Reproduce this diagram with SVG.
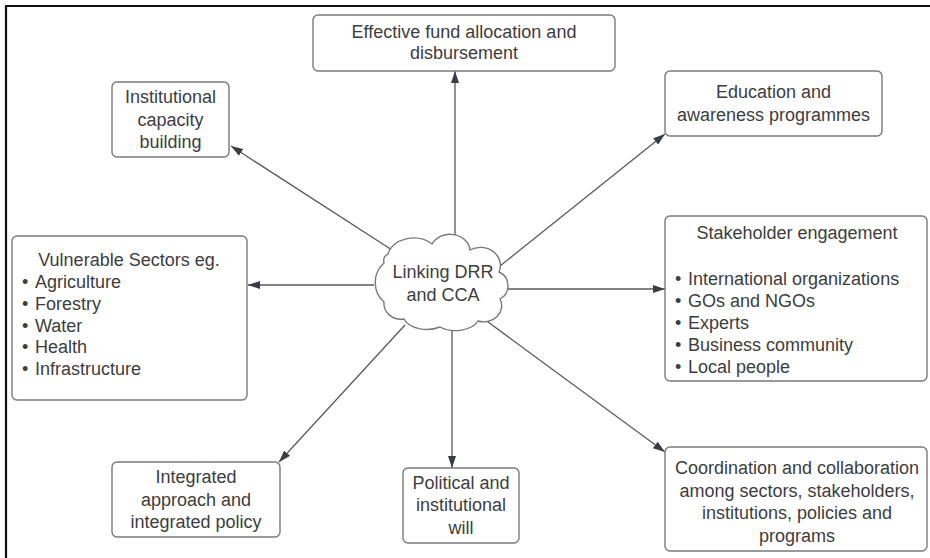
<svg xmlns="http://www.w3.org/2000/svg" width="930" height="558" viewBox="0 0 930 558">
  <defs>
    <marker id="arrow" viewBox="0 0 12 8" refX="12" refY="4" markerWidth="12" markerHeight="8" markerUnits="userSpaceOnUse" orient="auto">
      <path d="M0,0 L12,4 L0,8 Z" fill="#3a3d42"/>
    </marker>
    <style>
      .box { fill: #ffffff; stroke: #7a7a7a; stroke-width: 1.4; }
      .lbl { font-family: "Liberation Sans", Arial, sans-serif; font-size: 18px; fill: #3d3d3d; }
      .c { text-anchor: middle; }
      .edge { stroke: #5a5a5a; stroke-width: 1.3; fill: none; marker-end: url(#arrow); }
    </style>
  </defs>

  <rect width="930" height="558" fill="#ffffff"/>
  <!-- frame -->
  <path d="M6,558 L6,6 L930,6" fill="none" stroke="#111111" stroke-width="2.2"/>

  <g id="connectors">
    <line class="edge" x1="455" y1="238" x2="455" y2="71"/>
    <line class="edge" x1="392" y1="250" x2="231" y2="146"/>
    <line class="edge" x1="500" y1="266" x2="665" y2="134"/>
    <line class="edge" x1="374" y1="285" x2="248" y2="285"/>
    <line class="edge" x1="503" y1="289" x2="665" y2="289"/>
    <line class="edge" x1="405" y1="325" x2="279" y2="462"/>
    <line class="edge" x1="452" y1="328" x2="452" y2="468"/>
    <line class="edge" x1="488" y1="322" x2="665" y2="452"/>
  </g>

  <g id="hub">
    <path class="box" d="M388,254 A26,20 0 0 1 432,244 A20,17 0 0 1 470,250 A20,18 0 0 1 499,272 A15,15 0 0 1 500,299 A18,16 0 0 1 478,321 A24,15 0 0 1 440,327 A24,15 0 0 1 404,319 A17,16 0 0 1 384,302 A26,26 0 0 1 384,263 A8,8 0 0 1 388,254 Z"/>
    <text class="lbl c" x="443" y="278">Linking DRR</text>
    <text class="lbl c" x="443" y="301">and CCA</text>
  </g>

  <g id="fund">
    <rect class="box" x="313" y="15" width="302" height="56" rx="5"/>
    <text class="lbl c" x="464" y="38">Effective fund allocation and</text>
    <text class="lbl c" x="464" y="59">disbursement</text>
  </g>

  <g id="capacity">
    <rect class="box" x="112" y="82" width="117" height="75" rx="5"/>
    <text class="lbl c" x="170.5" y="103">Institutional</text>
    <text class="lbl c" x="170.5" y="126">capacity</text>
    <text class="lbl c" x="170.5" y="148">building</text>
  </g>

  <g id="education">
    <rect class="box" x="665" y="71" width="217" height="65" rx="5"/>
    <text class="lbl c" x="773.5" y="98">Education and</text>
    <text class="lbl c" x="773.5" y="121">awareness programmes</text>
  </g>

  <g id="sectors">
    <rect class="box" x="12" y="236" width="235" height="164" rx="5"/>
    <text class="lbl c" x="129" y="266">Vulnerable Sectors eg.</text>
    <text class="lbl" y="288"><tspan x="22">•</tspan><tspan x="35">Agriculture</tspan></text>
    <text class="lbl" y="310"><tspan x="22">•</tspan><tspan x="35">Forestry</tspan></text>
    <text class="lbl" y="332"><tspan x="22">•</tspan><tspan x="35">Water</tspan></text>
    <text class="lbl" y="353"><tspan x="22">•</tspan><tspan x="35">Health</tspan></text>
    <text class="lbl" y="375"><tspan x="22">•</tspan><tspan x="35">Infrastructure</tspan></text>
  </g>

  <g id="stakeholders">
    <rect class="box" x="665" y="216" width="262" height="165" rx="5"/>
    <text class="lbl c" x="797" y="239">Stakeholder engagement</text>
    <text class="lbl" y="285"><tspan x="675">•</tspan><tspan x="688">International organizations</tspan></text>
    <text class="lbl" y="307"><tspan x="675">•</tspan><tspan x="688">GOs and NGOs</tspan></text>
    <text class="lbl" y="329"><tspan x="675">•</tspan><tspan x="688">Experts</tspan></text>
    <text class="lbl" y="351"><tspan x="675">•</tspan><tspan x="688">Business community</tspan></text>
    <text class="lbl" y="373"><tspan x="675">•</tspan><tspan x="688">Local people</tspan></text>
  </g>

  <g id="integrated">
    <rect class="box" x="112" y="462" width="168" height="75" rx="5"/>
    <text class="lbl c" x="196" y="483">Integrated</text>
    <text class="lbl c" x="196" y="506">approach and</text>
    <text class="lbl c" x="196" y="528">integrated policy</text>
  </g>

  <g id="political">
    <rect class="box" x="403" y="468" width="116" height="75" rx="5"/>
    <text class="lbl c" x="461" y="489">Political and</text>
    <text class="lbl c" x="461" y="511">institutional</text>
    <text class="lbl c" x="461" y="534">will</text>
  </g>

  <g id="coordination">
    <rect class="box" x="665" y="447" width="262" height="104" rx="5"/>
    <text class="lbl c" x="797" y="474">Coordination and collaboration</text>
    <text class="lbl c" x="797" y="497">among sectors, stakeholders,</text>
    <text class="lbl c" x="797" y="519">institutions, policies and</text>
    <text class="lbl c" x="797" y="542">programs</text>
  </g>
</svg>
